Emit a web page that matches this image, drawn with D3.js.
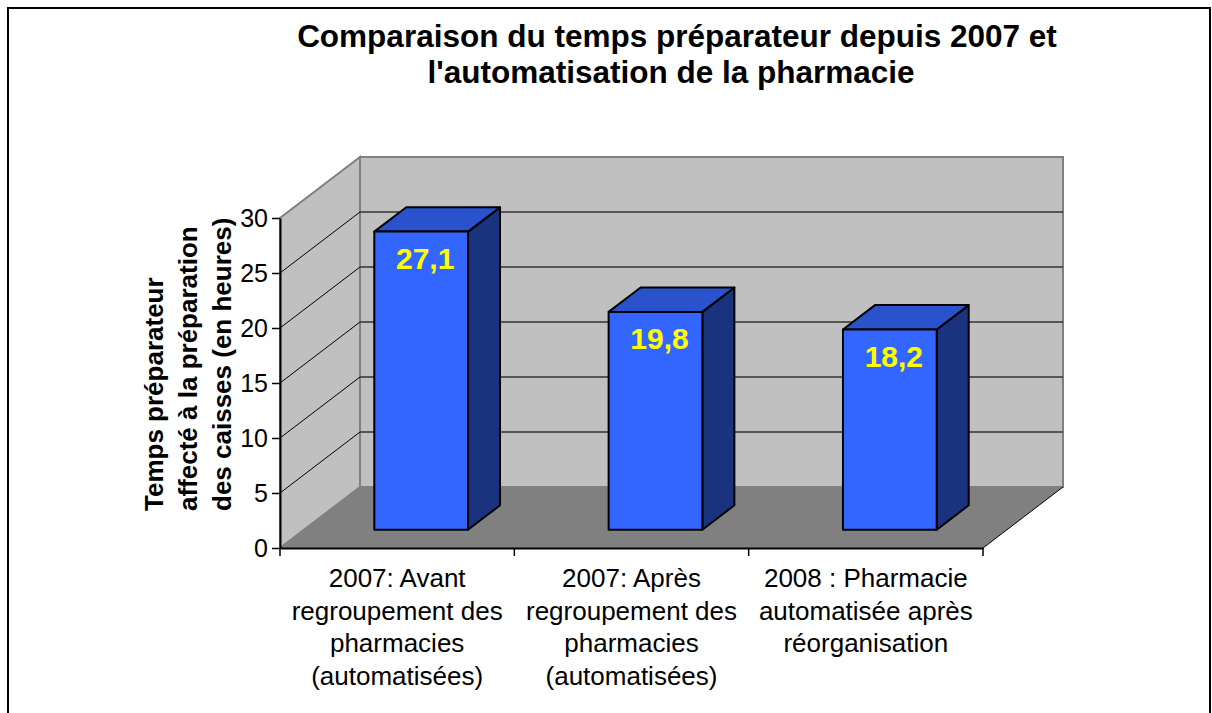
<!DOCTYPE html>
<html>
<head>
<meta charset="utf-8">
<script src="https://cdn.jsdelivr.net/npm/d3@7"></script>
<style>
  body { margin: 0; background: #fff; }
  text { font-family: Arial, "Liberation Sans", Helvetica, sans-serif; }
</style>
</head>
<body>
<div id="chart"></div>
<script>
const titleLines = ["Comparaison du temps préparateur depuis 2007 et", "l'automatisation de la pharmacie"];
const yTitleLines = ["Temps préparateur", "affecté à la préparation", "des caisses (en heures)"];
const categories = [
  "2007: Avant\nregroupement des\npharmacies\n(automatisées)",
  "2007: Après\nregroupement des\npharmacies\n(automatisées)",
  "2008 : Pharmacie\nautomatisée après\nréorganisation"
];
const values = [27.1, 19.8, 18.2];
const yTicks = [0, 5, 10, 15, 20, 25, 30];

const W = 1212, H = 713;
// plot frame (front plane) and depth offset
const plotL = 280, plotR = 983, plotB = 548, plotT = 218;
const depth = {dx: 80, dy: -61};

const fr = d3.formatLocale({decimal: ",", thousands: " ", grouping: [3], currency: ["", " €"]});
const fmt = fr.format(".1f");

const svg = d3.select("#chart").append("svg")
  .attr("width", W).attr("height", H);

svg.append("rect")
  .attr("x", 8).attr("y", 8).attr("width", 1202).attr("height", 730)
  .attr("fill", "#fff").attr("stroke", "#000").attr("stroke-width", 2);

var x = d3.scaleBand().domain(categories).range([plotL, plotR]);
var y = d3.scaleLinear().domain([0, 30]).range([plotB, plotT]);

// project a point of the 3d box: px on front plane, value v, depth d (0 front .. 1 back)
function p(px, v, d) {
  return [px + depth.dx * d, y(v) + depth.dy * d];
}
function poly(pts) { return "M" + pts.map(q => q.join(",")).join("L") + "Z"; }

const walls = svg.append("g");
// left wall
walls.append("path")
  .attr("d", poly([p(plotL, 0, 0), p(plotL, 0, 1), p(plotL, 30, 1), p(plotL, 30, 0)]))
  .attr("fill", "#c0c0c0").attr("stroke", "#808080").attr("stroke-width", 2);
// back wall
walls.append("path")
  .attr("d", poly([p(plotL, 0, 1), p(plotR, 0, 1), p(plotR, 30, 1), p(plotL, 30, 1)]))
  .attr("fill", "#c0c0c0").attr("stroke", "#808080").attr("stroke-width", 2);

// gridlines on back wall and left wall
const grid = yTicks.filter(t => t > 0 && t < 30);
walls.selectAll(".gback").data(grid).enter().append("line")
  .attr("x1", d => p(plotL, d, 1)[0]).attr("y1", d => p(plotL, d, 1)[1])
  .attr("x2", d => p(plotR, d, 1)[0]).attr("y2", d => p(plotR, d, 1)[1])
  .attr("stroke", "#333").attr("stroke-width", 1.5);
walls.selectAll(".gside").data(grid).enter().append("line")
  .attr("x1", d => p(plotL, d, 0)[0]).attr("y1", d => p(plotL, d, 0)[1])
  .attr("x2", d => p(plotL, d, 1)[0]).attr("y2", d => p(plotL, d, 1)[1])
  .attr("stroke", "#000").attr("stroke-width", 1);

// floor
walls.append("path")
  .attr("d", poly([p(plotL, 0, 0), p(plotR, 0, 0), p(plotR, 0, 1), p(plotL, 0, 1)]))
  .attr("fill", "#808080");
walls.append("line")
  .attr("x1", p(plotR, 0, 0)[0]).attr("y1", p(plotR, 0, 0)[1])
  .attr("x2", p(plotR, 0, 1)[0]).attr("y2", p(plotR, 0, 1)[1])
  .attr("stroke", "#000").attr("stroke-width", 1);

// bars
const bw = x.bandwidth();
const bars = svg.append("g").selectAll("g").data(values).enter().append("g");
function x0(i) { return x(categories[i]) + bw * 0.3; }
function x1(i) { return x(categories[i]) + bw * 0.7; }

bars.append("path") // side
  .attr("d", (d, i) => poly([p(x1(i), 0, 0.3), p(x1(i), 0, 0.7), p(x1(i), d, 0.7), p(x1(i), d, 0.3)]))
  .attr("fill", "#1a337f").attr("stroke", "#000").attr("stroke-width", 2).attr("stroke-linejoin", "round");
bars.append("path") // top
  .attr("d", (d, i) => poly([p(x0(i), d, 0.3), p(x1(i), d, 0.3), p(x1(i), d, 0.7), p(x0(i), d, 0.7)]))
  .attr("fill", "#2952cc").attr("stroke", "#000").attr("stroke-width", 2).attr("stroke-linejoin", "round");
bars.append("path") // front
  .attr("d", (d, i) => poly([p(x0(i), 0, 0.3), p(x1(i), 0, 0.3), p(x1(i), d, 0.3), p(x0(i), d, 0.3)]))
  .attr("fill", "#3366ff").attr("stroke", "#000").attr("stroke-width", 2).attr("stroke-linejoin", "round");

bars.append("text")
  .attr("x", (d, i) => (p(x0(i), d, 0.3)[0] + p(x1(i), d, 0.3)[0]) / 2 + 4)
  .attr("y", (d, i) => p(x0(i), d, 0.3)[1] + 37)
  .attr("text-anchor", "middle")
  .attr("font-size", 30).attr("font-weight", "bold").attr("fill", "#ffff00")
  .text(d => fmt(d));

// y axis
const yAxis = svg.append("g")
  .attr("transform", "translate(" + plotL + ",0)")
  .call(d3.axisLeft(y).tickValues(yTicks).tickSize(8).tickSizeOuter(0).tickPadding(4));
yAxis.select(".domain").attr("stroke", "#000").attr("stroke-width", 2);
yAxis.selectAll(".tick line").attr("stroke", "#000").attr("stroke-width", 1.5);
yAxis.selectAll(".tick text").attr("font-size", 25).attr("fill", "#000")
  .attr("font-family", "Arial, 'Liberation Sans', sans-serif");

// x axis
const xAxis = svg.append("g")
  .attr("transform", "translate(0," + plotB + ")")
  .call(d3.axisBottom(x).tickSize(0).tickFormat(""));
xAxis.select(".domain").attr("stroke", "#000").attr("stroke-width", 2);
const bounds = categories.map(c => x(c)).concat([plotR]);
xAxis.selectAll(".bt").data(bounds).enter().append("line")
  .attr("x1", d => d).attr("x2", d => d).attr("y1", 0).attr("y2", 8)
  .attr("stroke", "#000").attr("stroke-width", 1.5);

svg.append("g").selectAll("text").data(categories).enter().append("text")
  .attr("text-anchor", "middle").attr("font-size", 26).attr("fill", "#000")
  .each(function(c) {
    const t = d3.select(this);
    c.split("\n").forEach((line, k) => {
      t.append("tspan").attr("x", x(c) + bw / 2).attr("y", 587 + k * 32.5).text(line);
    });
  });

// titles
svg.append("text")
  .attr("text-anchor", "middle").attr("font-size", 31.5).attr("font-weight", "bold")
  .selectAll("tspan").data(titleLines).enter().append("tspan")
  .attr("x", (d, i) => i === 0 ? 677 : 671).attr("y", (d, i) => 47 + i * 36).text(d => d);

svg.append("g").attr("transform", "translate(0,511) rotate(-90)")
  .append("text")
  .attr("text-anchor", "start").attr("font-size", 26).attr("font-weight", "bold")
  .selectAll("tspan").data(yTitleLines).enter().append("tspan")
  .attr("x", 0).attr("y", (d, i) => 163 + i * 34).text(d => d);
</script>
</body>
</html>
